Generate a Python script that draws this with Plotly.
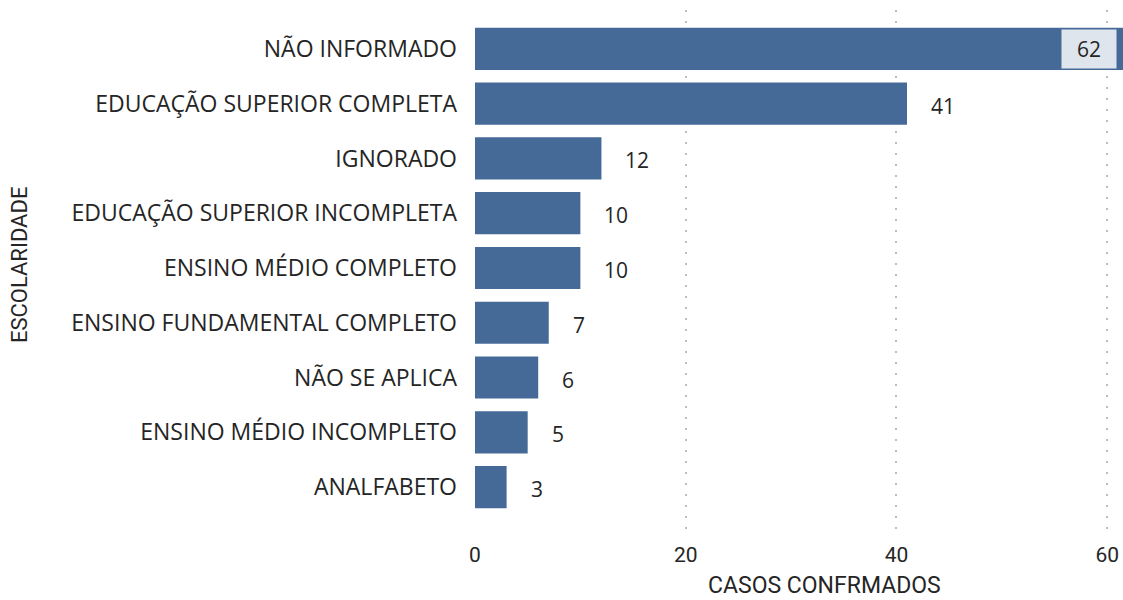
import plotly.graph_objects as go

categories = ["ANALFABETO", "ENSINO MÉDIO INCOMPLETO", "NÃO SE APLICA",
              "ENSINO FUNDAMENTAL COMPLETO", "ENSINO MÉDIO COMPLETO",
              "EDUCAÇÃO SUPERIOR INCOMPLETA", "IGNORADO",
              "EDUCAÇÃO SUPERIOR COMPLETA", "NÃO INFORMADO"]
values = [3, 5, 6, 7, 10, 10, 12, 41, 62]
x_ticks = [0, 20, 40, 60]

BAR = "#466A97"
TXT = "#252525"
LABEL_FONT = "Open Sans"
TITLE_FONT = "Roboto"

fig = go.Figure(go.Bar(
    x=values, y=categories, orientation="h",
    marker=dict(color=BAR, line=dict(width=0)),
    width=0.77, hoverinfo="x+y",
))

x_max = 61.5
annotations = []
for c, v in zip(categories, values):
    if v > x_max - 5:
        annotations.append(dict(
            x=x_max, y=c, xref="x", yref="y", text=str(v), showarrow=False,
            xanchor="right", xshift=-6, font=dict(size=21, color=TXT, family=LABEL_FONT),
            bgcolor="#DFE5EC", borderpad=3, width=48, height=32))
    else:
        annotations.append(dict(
            x=v, y=c, xref="x", yref="y", text=str(v), showarrow=False,
            xanchor="left", xshift=22, yshift=-2,
            font=dict(size=21, color=TXT, family=LABEL_FONT)))

annotations.append(dict(
    text="CASOS CONFRMADOS", xref="paper", yref="paper", x=0.539, y=0,
    yshift=-53, showarrow=False, xanchor="center", yanchor="middle",
    font=dict(size=23, color=TXT, family=TITLE_FONT)))
annotations.append(dict(
    text="ESCOLARIDADE", xref="paper", yref="paper", x=-0.704, y=0.511,
    textangle=-90, showarrow=False, xanchor="center", yanchor="middle",
    font=dict(size=22, color=TXT, family=TITLE_FONT)))

fig.update_layout(
    width=1123, height=600,
    margin=dict(l=475, r=0, t=10, b=68, autoexpand=False),
    paper_bgcolor="white", plot_bgcolor="white",
    showlegend=False,
    annotations=annotations,
    xaxis=dict(range=[0, x_max], tickvals=x_ticks, showgrid=True, automargin=False,
               gridcolor="#BDBDBD", griddash="2px,9px", gridwidth=1.5,
               zeroline=False, showline=False, ticks="", ticklabelstandoff=8,
               tickfont=dict(size=21, color=TXT, family=TITLE_FONT)),
    yaxis=dict(type="category", range=[-0.82, 8.71], showgrid=False, automargin=False,
               zeroline=False, showline=False, ticks="", ticklabelstandoff=17,
               tickfont=dict(size=23, color=TXT, family=LABEL_FONT)),
)

fig.write_html("out.html", config={"displayModeBar": False},
               post_script="document.body.style.margin='0';")
